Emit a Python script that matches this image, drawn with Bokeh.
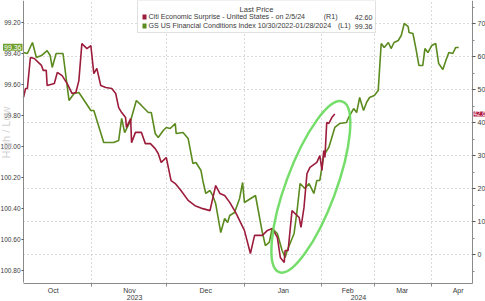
import numpy as np
from bokeh.plotting import figure
from bokeh.models import Range1d, LinearAxis, FixedTicker, BoxAnnotation, Label, NumeralTickFormatter
from bokeh.embed import file_html
from bokeh.resources import INLINE

# ---- data (abstract session index on x) ----
month_starts = [22.8, 47.7, 73.8, 99.7, 117.2, 136.4]
month_mids = [9.9, 35.4, 60.9, 86.8, 108.3, 126.5, 145.2]
month_labels = ["Oct", "Nov", "Dec", "Jan", "Feb", "Mar", "Apr"]
year_labels = ["2023", "2024"]
year_pos = [37.1, 111.9]

citi_t = [0, 0.7, 1.3, 2.3, 3.6, 6.0, 6.6, 7.6, 7.9, 10.3, 11.3, 12.9, 14.6, 16.2, 17.5, 18.5,
          19.5, 21.2, 22.5, 23.5, 24.5, 25.8, 27.5, 29.5, 30.8, 31.8, 32.8, 34.1, 34.4, 35.8,
          36.1, 37.4, 39.4, 40.7, 42.4, 44.0, 45.0, 46.0, 47.7, 49.3, 50.7, 52.6, 55.0, 57.3,
          59.9, 62.3, 64.2, 65.6, 67.2, 68.9, 70.9, 73.8, 75.8, 77.2, 79.8, 81.5, 83.1, 84.8,
          85.8, 87.1, 87.4, 88.4, 89.7, 92.1, 92.7, 93.7, 94.7, 95.7, 98.0, 99.0, 99.7, 100.3,
          100.7, 101.3, 102.0, 103.0, 104.0]
citi_v = [47.6, 50.3, 50.3, 59.7, 59.4, 57.3, 55.8, 55.8, 51.2, 51.8, 55.2, 54.2, 51.8, 48.8, 49.1, 52.7,
          63.9, 62.4, 63.3, 54.8, 56.4, 51.2, 50.6, 50.3, 48.8, 44.5, 43.0, 41.5, 38.5, 41.2,
          33.9, 37.0, 37.0, 33.6, 33.6, 32.1, 30.6, 27.9, 29.4, 22.4, 21.5, 19.4, 16.4, 14.8,
          13.9, 13.3, 20.9, 18.5, 17.9, 15.8, 12.7, 7.3, 0.3, 5.8, 5.8, 7.3, 7.9, 5.2,
          -0.9, -2.4, 1.2, 1.2, 13.3, 11.2, 8.2, 14.2, 24.5, 26.4, 27.9, 30.0, 25.5, 31.5,
          29.4, 40.0, 39.7, 41.5, 42.6]

fci_t = [0, 1.3, 3.0, 4.3, 6.0, 7.9, 8.9, 9.6, 10.9, 13.2, 15.2, 16.9, 18.5, 22.5, 23.5, 26.8,
         30.1, 31.8, 32.8, 33.8, 35.8, 37.7, 39.4, 41.7, 42.7, 44.0, 45.0, 46.7, 47.7, 49.0,
         50.7, 51.0, 53.3, 55.0, 56.6, 57.6, 59.3, 59.9, 60.9, 62.3, 63.2, 64.2, 65.9, 67.2,
         68.2, 68.9, 70.5, 72.2, 73.2, 73.8, 77.5, 79.8, 80.8, 82.1, 83.1, 84.8, 86.4, 87.4,
         88.1, 90.4, 91.4, 92.4, 94.0, 95.4, 97.0, 98.0, 99.0, 100.3, 102.0, 104.0, 105.6, 107.9,
         108.6, 110.3, 111.3, 112.3, 113.6, 114.6, 115.6, 117.2, 118.5, 119.5, 120.5, 121.9, 122.8,
         123.8, 125.2, 126.2, 127.2, 128.5, 128.8, 130.1, 131.1, 132.1, 133.4, 134.1, 135.1, 136.4,
         137.7, 138.7, 140.1, 141.1, 142.1, 143.4, 144.4, 145.4]
fci_v = [99.394, 99.400, 99.329, 99.426, 99.413, 99.381, 99.413, 99.490, 99.400, 99.400, 99.703,
         99.658, 99.652, 99.768, 99.768, 99.974, 99.974, 99.961, 99.819, 99.910, 99.832, 99.703,
         99.735, 99.781, 99.781, 99.916, 99.942, 99.897, 99.877, 99.884, 99.852, 99.916, 99.910,
         99.948, 100.110, 100.103, 100.155, 100.219, 100.303, 100.284, 100.316, 100.368, 100.555,
         100.465, 100.490, 100.445, 100.426, 100.335, 100.232, 100.361, 100.316, 100.555, 100.639,
         100.619, 100.529, 100.561, 100.671, 100.716, 100.671, 100.561, 100.413, 100.239, 100.271,
         100.239, 100.303, 100.219, 100.219, 100.058, 100.006, 99.877, 99.852, 99.845, 99.813,
         99.755, 99.781, 99.684, 99.768, 99.716, 99.684, 99.671, 99.639, 99.335, 99.361, 99.329,
         99.368, 99.329, 99.316, 99.284, 99.206, 99.226, 99.265, 99.271, 99.368, 99.477, 99.477,
         99.368, 99.394, 99.348, 99.335, 99.465, 99.503, 99.445, 99.394, 99.400, 99.361, 99.361]

right_ticks = [0, 10, 20, 30, 40, 50, 60, 70]
right_minor = [-5, 5, 15, 25, 35, 45, 55, 65, 75]
left_ticks = [99.2, 99.4, 99.6, 99.8, 100.0, 100.2, 100.4, 100.6, 100.8]

citi_last = 42.60
fci_last = 99.36
highlight_t, highlight_v = 96.0, 20.5

# plot-area extents (data) and canvas ranges
T0, T1 = 0, 150
R_LO, R_HI = -8.79, 76.97          # right-axis span of plot area
F_LO, F_HI = 99.058, 100.877       # left-axis span (inverted)

RED = "#9c1c3c"
GREEN = "#5b8a1e"
FONT = "Liberation Sans"
TXT = "#3a3a3a"
W, H = 485, 301

p = figure(width=W, height=H, x_range=Range1d(-7.684, 154.343), y_range=Range1d(-14.24, 76.97),
           x_axis_location="below", y_axis_location="right",
           output_backend="svg", toolbar_location=None,
           min_border_left=0, min_border_right=0, min_border_top=0, min_border_bottom=0)
p.outline_line_color = None
p.background_fill_color = "white"
p.border_fill_color = "white"
p.extra_y_ranges = {"fci": Range1d(101.0, 99.058)}

ra = p.right[0]
ra.ticker = FixedTicker(ticks=right_ticks, minor_ticks=right_minor)
ra.fixed_location = T1
ra.bounds = (R_LO, R_HI)

la = LinearAxis(y_range_name="fci", ticker=FixedTicker(ticks=left_ticks),
                formatter=NumeralTickFormatter(format="0.00"), fixed_location=T0,
                bounds=(F_LO, F_HI))
p.add_layout(la, "left")

xa = p.below[0]
xa.ticker = FixedTicker(ticks=month_mids, minor_ticks=month_starts)
xa.major_label_overrides = {m: l for m, l in zip(month_mids, month_labels)}
xa.fixed_location = R_LO
xa.bounds = (T0, T1)
xa.major_tick_line_color = None
xa.major_tick_out = 0
xa.major_tick_in = 0
xa.minor_tick_out = 3
xa.minor_tick_in = 0

for ax in (ra, la, xa):
    ax.axis_line_color = "#8a8a8a"
    ax.major_label_text_font = FONT
    ax.major_label_text_font_size = "7px"
    ax.major_label_text_color = TXT
    ax.major_label_standoff = 2
    ax.minor_tick_line_color = "#8a8a8a"
for ax in (ra, la):
    ax.major_tick_line_color = "#555555"
    ax.major_tick_out = 3
    ax.major_tick_in = 0
la.major_label_text_font_size = "6.5px"
la.major_tick_out = 2
la.major_label_standoff = 1
xa.major_label_standoff = 0
ra.minor_tick_out = 2
ra.minor_tick_in = 0
la.minor_tick_line_color = None

p.xgrid.ticker = FixedTicker(ticks=month_starts)
p.ygrid.ticker = FixedTicker(ticks=right_ticks)
for g, cb in ((p.xgrid[0], (R_LO, R_HI)), (p.ygrid[0], (T0, T1))):
    g.grid_line_color = "#b5b5b5"
    g.grid_line_dash = "1 3"
    g.grid_line_width = 1
    try:
        g.cross_bounds = cb
    except AttributeError:
        pass

p.line(fci_t, fci_v, y_range_name="fci", line_color=GREEN, line_width=1.6)
p.line(citi_t, citi_v, line_color=RED, line_width=1.6)

p.ellipse(x=[highlight_t], y=[highlight_v], width=[182], height=[50],
          width_units="screen", height_units="screen", angle=[np.deg2rad(69.6)],
          fill_color=None, line_color="#66d95a", line_width=2.5, line_alpha=0.9)

# value tags on the axes
p.add_layout(Label(x=T0, y=fci_last, y_range_name="fci", text=f"{fci_last:.2f}",
                   text_align="right", text_baseline="middle", x_offset=-1,
                   background_fill_color="#6f9e2c", text_color="white",
                   text_font=FONT, text_font_size="7px", padding=1))
p.add_layout(Label(x=T1, y=citi_last, text=f"{citi_last:.1f}", text_align="left",
                   text_baseline="middle", x_offset=1, background_fill_color="#b0183c",
                   text_color="white", text_font=FONT, text_font_size="6.3px", padding=0))

# legend box (canvas pixel layout, y measured from bottom)
def lbl(x, y, t, align="left", color=TXT, size="7.1px"):
    p.add_layout(Label(x=x, y=y, x_units="screen", y_units="screen", text=t, text_align=align,
                       text_baseline="middle", text_color=color, text_font=FONT,
                       text_font_size=size))

def box(l, r, t, b, fill, line=None):
    p.add_layout(BoxAnnotation(left=l, right=r, top=t, bottom=b, left_units="screen",
                               right_units="screen", top_units="screen", bottom_units="screen",
                               fill_color=fill, fill_alpha=1, line_color=line, line_width=1))

box(137, 375, H, H - 32, "white", "#9a9a9a")
box(142, 146, H - 14, H - 19, RED)
box(142, 146, H - 23, H - 28, GREEN)
lbl(256, H - 8.5, "Last Price", align="center", size="7.6px")
lbl(148, H - 16.5, "Citi Economic Surprise - United States -  on 2/5/24")
lbl(337, H - 16.5, "(R1)", align="right")
lbl(372, H - 16.5, f"{citi_last:.2f}", align="right")
lbl(148, H - 25.5, "GS US Financial Conditions Index 10/30/2022-01/28/2024")
lbl(350, H - 25.5, "(L1)", align="right")
lbl(372, H - 25.5, f"{fci_last:.2f}", align="right")

# year labels under the month labels
for yp, yl in zip(year_pos, year_labels):
    p.add_layout(Label(x=yp, y=4.5, y_units="screen", text=yl, text_align="center",
                       text_baseline="middle", text_color=TXT, text_font=FONT,
                       text_font_size="7px"))

# faint rotated caption on the left edge
p.add_layout(Label(x=5, y=H - 132, x_units="screen", y_units="screen", text="High / Low",
                   angle=np.pi / 2, text_align="center", text_baseline="middle",
                   text_color="#d2d2d2", text_font=FONT, text_font_size="11px"))

open("out.html", "w").write(file_html(p, INLINE))
